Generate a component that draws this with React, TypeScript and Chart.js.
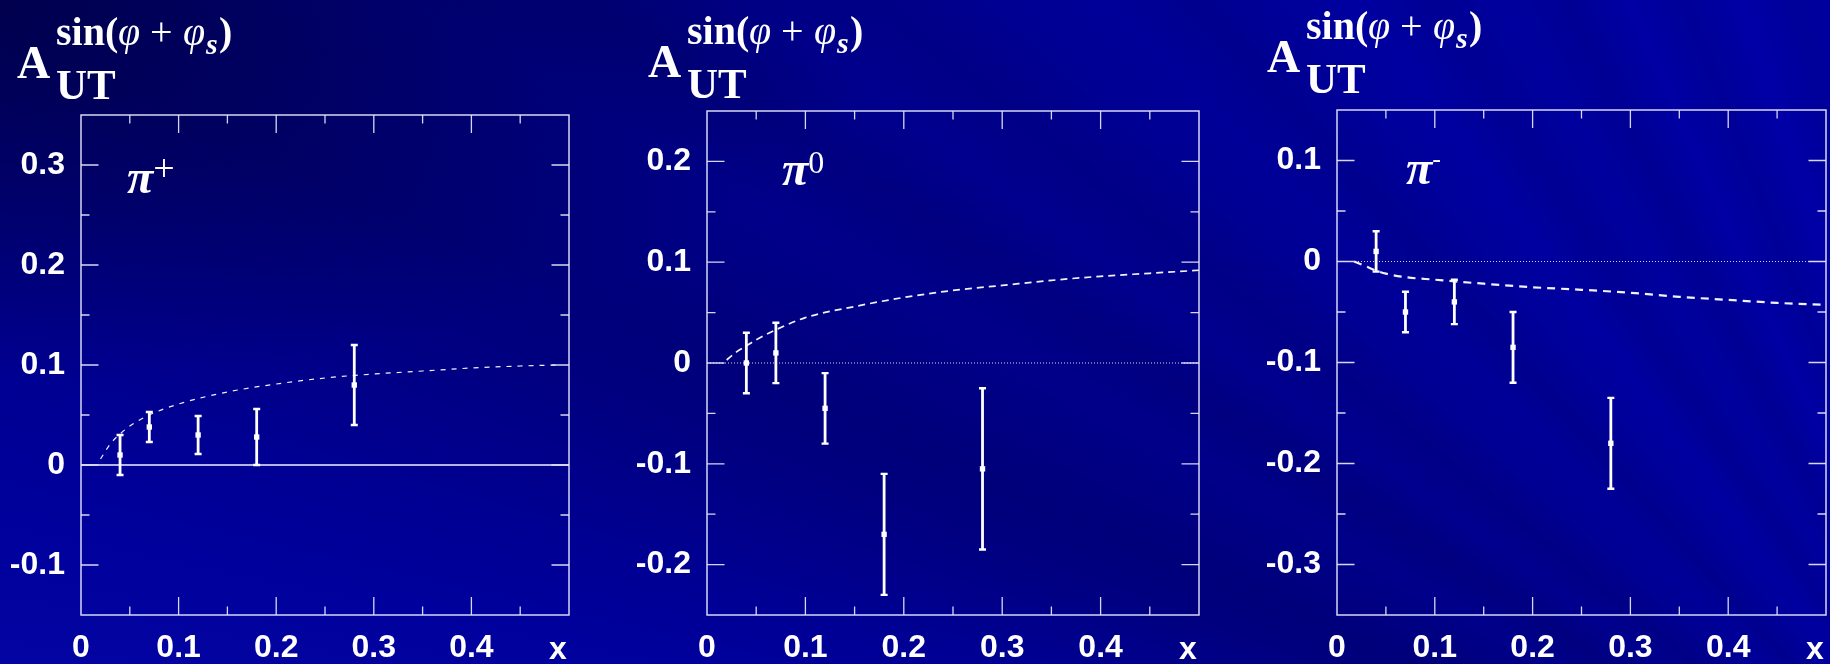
import React, { useEffect, useRef } from 'react';
import { Chart, registerables } from 'chart.js';

Chart.register(...registerables);

// ---------- data ----------
const X_MIN = 0;
const X_MAX = 0.5;
const X_TICK_VALUES = [0, 0.1, 0.2, 0.3, 0.4];
const X_TICK_LABELS = ['0', '0.1', '0.2', '0.3', '0.4'];
const X_AXIS_NAME = 'x';

const POINT_X = [0.04, 0.07, 0.12, 0.18, 0.28];

// pi+
const PIP_Y = [0.01, 0.038, 0.03, 0.028, 0.08];
const PIP_ERR = [0.02, 0.015, 0.019, 0.028, 0.04];
const PIP_CURVE_X = [0.02, 0.03, 0.04, 0.05, 0.07, 0.1, 0.15, 0.2, 0.25, 0.3, 0.35, 0.4, 0.45, 0.49];
const PIP_CURVE_Y = [0.006, 0.021, 0.031, 0.039, 0.05, 0.061, 0.073, 0.081, 0.087, 0.091, 0.094, 0.097, 0.099, 0.1];
const PIP_Y_TICKS = [-0.1, 0, 0.1, 0.2, 0.3];
const PIP_Y_LABELS = ['-0.1', '0', '0.1', '0.2', '0.3'];
const PIP_Y_MIN = -0.15;
const PIP_Y_MAX = 0.35;

// pi0
const PI0_Y = [0.0, 0.01, -0.045, -0.17, -0.105];
const PI0_ERR = [0.03, 0.03, 0.035, 0.06, 0.08];
const PI0_CURVE_X = [0.02, 0.03, 0.04, 0.05, 0.07, 0.1, 0.15, 0.2, 0.25, 0.3, 0.35, 0.4, 0.45, 0.5];
const PI0_CURVE_Y = [0.003, 0.011, 0.017, 0.023, 0.033, 0.045, 0.056, 0.065, 0.072, 0.077, 0.082, 0.086, 0.089, 0.092];
const PI0_Y_TICKS = [-0.2, -0.1, 0, 0.1, 0.2];
const PI0_Y_LABELS = ['-0.2', '-0.1', '0', '0.1', '0.2'];
const PI0_Y_MIN = -0.25;
const PI0_Y_MAX = 0.25;

// pi-
const PIM_Y = [0.01, -0.05, -0.04, -0.085, -0.18];
const PIM_ERR = [0.02, 0.02, 0.022, 0.035, 0.045];
const PIM_CURVE_X = [0.0175, 0.03, 0.04, 0.05, 0.07, 0.1, 0.15, 0.2, 0.25, 0.3, 0.35, 0.4, 0.45, 0.5];
const PIM_CURVE_Y = [0, -0.005, -0.009, -0.012, -0.0155, -0.018, -0.022, -0.0255, -0.028, -0.031, -0.035, -0.038, -0.041, -0.043];
const PIM_Y_TICKS = [-0.3, -0.2, -0.1, 0, 0.1];
const PIM_Y_LABELS = ['-0.3', '-0.2', '-0.1', '0', '0.1'];
const PIM_Y_MIN = -0.35;
const PIM_Y_MAX = 0.15;

const PARTICLE_SUPS = ['+', '0', '-'];

// ---------- layout ----------
type PanelCfg = {
  canvasLeft: number;
  canvasWidth: number;
  boxLeft: number;
  boxRight: number;
  boxTop: number;
  ys: number[];
  errs: number[];
  curveX: number[];
  curveY: number[];
  yTicks: number[];
  yLabels: string[];
  yMin: number;
  yMax: number;
  zeroSolid: boolean;
  curveWidth: number;
  curveDash: number[];
  titleX: number;
  titleBase: number;
  piX: number;
  piBase: number;
  supText: string;
  supSize: number;
  supRise: number;
};

const PANELS: PanelCfg[] = [
  {
    canvasLeft: 0, canvasWidth: 600, boxLeft: 81, boxRight: 569, boxTop: 115,
    ys: PIP_Y, errs: PIP_ERR, curveX: PIP_CURVE_X, curveY: PIP_CURVE_Y,
    yTicks: PIP_Y_TICKS, yLabels: PIP_Y_LABELS, yMin: PIP_Y_MIN, yMax: PIP_Y_MAX,
    zeroSolid: true, curveWidth: 1.2, curveDash: [5, 6],
    titleX: 17, titleBase: 78, piX: 127, piBase: 193, supText: PARTICLE_SUPS[0], supSize: 38, supRise: 12,
  },
  {
    canvasLeft: 620, canvasWidth: 610, boxLeft: 707, boxRight: 1199, boxTop: 111,
    ys: PI0_Y, errs: PI0_ERR, curveX: PI0_CURVE_X, curveY: PI0_CURVE_Y,
    yTicks: PI0_Y_TICKS, yLabels: PI0_Y_LABELS, yMin: PI0_Y_MIN, yMax: PI0_Y_MAX,
    zeroSolid: false, curveWidth: 1.7, curveDash: [7, 5],
    titleX: 648, titleBase: 77, piX: 782, piBase: 185, supText: PARTICLE_SUPS[1], supSize: 32, supRise: 12,
  },
  {
    canvasLeft: 1250, canvasWidth: 580, boxLeft: 1337, boxRight: 1828, boxTop: 110,
    ys: PIM_Y, errs: PIM_ERR, curveX: PIM_CURVE_X, curveY: PIM_CURVE_Y,
    yTicks: PIM_Y_TICKS, yLabels: PIM_Y_LABELS, yMin: PIM_Y_MIN, yMax: PIM_Y_MAX,
    zeroSolid: false, curveWidth: 2.2, curveDash: [8, 6],
    titleX: 1267, titleBase: 72, piX: 1406, piBase: 184, supText: PARTICLE_SUPS[2], supSize: 26, supRise: 17,
  },
];

const CANVAS_H = 664;
const Y_AXIS_W = 80;
const X_AXIS_H = 49;
const FRAME_COLOR = 'rgba(225,225,250,0.95)';
const SERIF = '"Liberation Serif", "Times New Roman", serif';
const SANS = '"Liberation Sans", Arial, sans-serif';
const TICK_SIZE = 32;

function Panel({ cfg }: { cfg: PanelCfg }) {
  const ref = useRef<HTMLCanvasElement | null>(null);

  useEffect(() => {
    const canvas = ref.current;
    if (!canvas) return;
    const cl = cfg.canvasLeft;

    const decor = {
      id: 'decor',
      beforeDatasetsDraw(chart: any) {
        const ctx = chart.ctx as CanvasRenderingContext2D;
        const { left, right } = chart.chartArea;
        const ys = chart.scales.y;
        const y0 = ys.getPixelForValue(0);
        ctx.save();
        ctx.strokeStyle = cfg.zeroSolid ? 'rgba(240,240,255,1)' : 'rgba(230,230,255,0.9)';
        ctx.lineWidth = cfg.zeroSolid ? 1.5 : 1;
        ctx.setLineDash(cfg.zeroSolid ? [] : [1, 2]);
        ctx.beginPath();
        ctx.moveTo(left, y0);
        ctx.lineTo(right, y0);
        ctx.stroke();
        ctx.restore();
      },
      afterDatasetsDraw(chart: any) {
        const ctx = chart.ctx as CanvasRenderingContext2D;
        const { left, right, top, bottom } = chart.chartArea;
        const xs = chart.scales.x;
        const ys = chart.scales.y;
        ctx.save();
        // error bars
        ctx.strokeStyle = '#ffffff';
        for (let i = 0; i < POINT_X.length; i++) {
          const px = xs.getPixelForValue(POINT_X[i]);
          const pt = ys.getPixelForValue(cfg.ys[i] + cfg.errs[i]);
          const pb = ys.getPixelForValue(cfg.ys[i] - cfg.errs[i]);
          ctx.lineWidth = 2.8;
          ctx.beginPath();
          ctx.moveTo(px, pt);
          ctx.lineTo(px, pb);
          ctx.stroke();
          ctx.lineWidth = 2.4;
          ctx.beginPath();
          ctx.moveTo(px - 3.5, pt);
          ctx.lineTo(px + 3.5, pt);
          ctx.moveTo(px - 3.5, pb);
          ctx.lineTo(px + 3.5, pb);
          ctx.stroke();
        }
        // frame
        ctx.strokeStyle = FRAME_COLOR;
        ctx.lineWidth = 1.5;
        ctx.strokeRect(left, top, right - left, bottom - top);
        // x ticks
        ctx.lineWidth = 1.3;
        ctx.beginPath();
        for (let k = 1; k < 10; k++) {
          const v = X_MIN + k * 0.05;
          const px = xs.getPixelForValue(v);
          const len = k % 2 === 0 ? 18 : 8.5;
          ctx.moveTo(px, bottom);
          ctx.lineTo(px, bottom - len);
          ctx.moveTo(px, top);
          ctx.lineTo(px, top + len);
        }
        // y ticks
        const kMin = Math.ceil(cfg.yMin / 0.05 - 1e-6);
        const kMax = Math.floor(cfg.yMax / 0.05 + 1e-6);
        for (let k = kMin; k <= kMax; k++) {
          const v = k * 0.05;
          if (Math.abs(v - cfg.yMin) < 1e-6 || Math.abs(v - cfg.yMax) < 1e-6) continue;
          const py = ys.getPixelForValue(v);
          const len = Math.abs(k) % 2 === 0 ? 17.5 : 8.5;
          ctx.moveTo(left, py);
          ctx.lineTo(left + len, py);
          ctx.moveTo(right, py);
          ctx.lineTo(right - len, py);
        }
        ctx.stroke();

        // x axis name
        ctx.fillStyle = '#ffffff';
        ctx.font = `bold ${TICK_SIZE}px ${SANS}`;
        ctx.textAlign = 'center';
        ctx.textBaseline = 'alphabetic';
        ctx.fillText(X_AXIS_NAME, xs.getPixelForValue(X_MAX) - 11, 659);

        // title A^{sin(phi+phi_S)}_{UT}
        ctx.textAlign = 'left';
        const tx = cfg.titleX - cl;
        const tb = cfg.titleBase;
        ctx.font = `bold 46px ${SERIF}`;
        ctx.fillText('A', tx, tb);
        const sb = tb - 33;
        ctx.font = `bold 40px ${SERIF}`;
        ctx.fillText('sin(', tx + 39, sb);
        ctx.font = `italic 40px ${SERIF}`;
        ctx.fillText('\u03C6', tx + 101, sb);
        ctx.font = `40px ${SERIF}`;
        ctx.fillText('+', tx + 133, sb);
        ctx.font = `italic 40px ${SERIF}`;
        ctx.fillText('\u03C6', tx + 166, sb);
        ctx.font = `bold italic 30px ${SERIF}`;
        ctx.fillText('s', tx + 189, sb + 9);
        ctx.font = `bold 40px ${SERIF}`;
        ctx.fillText(')', tx + 202, sb);
        ctx.font = `bold 43px ${SERIF}`;
        ctx.fillText('UT', tx + 39, tb + 21);

        // particle label
        const px0 = cfg.piX - cl;
        ctx.font = `bold italic 48px ${SERIF}`;
        ctx.fillText('\u03C0', px0, cfg.piBase);
        const w = ctx.measureText('\u03C0').width;
        ctx.font = `${cfg.supSize}px ${SERIF}`;
        ctx.fillText(cfg.supText, px0 + w, cfg.piBase - cfg.supRise);
        ctx.restore();
      },
    };

    const chart = new Chart(canvas, {
      type: 'line',
      data: {
        datasets: [
          {
            label: 'curve',
            data: cfg.curveX.map((x, i) => ({ x, y: cfg.curveY[i] })),
            borderColor: 'rgba(255,255,255,0.95)',
            borderWidth: cfg.curveWidth,
            borderDash: cfg.curveDash,
            pointRadius: 0,
            fill: false,
            cubicInterpolationMode: 'monotone',
          },
          {
            label: 'points',
            data: POINT_X.map((x, i) => ({ x, y: cfg.ys[i] })),
            showLine: false,
            pointStyle: 'rect',
            pointRadius: 3.8,
            backgroundColor: '#ffffff',
            borderWidth: 0,
          },
        ],
      },
      options: {
        responsive: false,
        maintainAspectRatio: false,
        animation: false,
        events: [],
        layout: {
          padding: {
            left: cfg.boxLeft - cl - Y_AXIS_W,
            right: cl + cfg.canvasWidth - cfg.boxRight,
            top: cfg.boxTop,
            bottom: 0,
          },
        },
        plugins: { legend: { display: false }, tooltip: { enabled: false }, title: { display: false } },
        scales: {
          x: {
            type: 'linear',
            min: X_MIN,
            max: X_MAX,
            grid: { display: false, drawTicks: false },
            border: { display: false },
            afterBuildTicks: (s: any) => {
              s.ticks = X_TICK_VALUES.map((v) => ({ value: v }));
            },
            afterFit: (s: any) => {
              s.height = X_AXIS_H;
            },
            ticks: {
              color: '#ffffff',
              font: { family: SANS, weight: 'bold', size: TICK_SIZE },
              padding: 14,
              maxRotation: 0,
              autoSkip: false,
              callback: (_v: any, i: number) => X_TICK_LABELS[i],
            },
          },
          y: {
            type: 'linear',
            min: cfg.yMin,
            max: cfg.yMax,
            grid: { display: false, drawTicks: false },
            border: { display: false },
            afterBuildTicks: (s: any) => {
              s.ticks = cfg.yTicks.map((v) => ({ value: v }));
            },
            afterFit: (s: any) => {
              s.width = Y_AXIS_W;
            },
            ticks: {
              color: '#ffffff',
              font: { family: SANS, weight: 'bold', size: TICK_SIZE },
              padding: 16,
              autoSkip: false,
              callback: (_v: any, i: number) => cfg.yLabels[i],
            },
          },
        },
      } as any,
      plugins: [decor],
    });
    return () => chart.destroy();
  }, [cfg]);

  return (
    <canvas
      ref={ref}
      width={cfg.canvasWidth}
      height={CANVAS_H}
      style={{
        position: 'absolute',
        left: cfg.canvasLeft,
        top: 0,
        width: cfg.canvasWidth,
        height: CANVAS_H,
      }}
    />
  );
}

const BG = [
  'radial-gradient(ellipse 900px 380px at 0px 0px, rgba(0,0,40,0.55), rgba(0,0,40,0) 100%),',
  'conic-gradient(from 0deg at 2050px 950px,',
  '#0a0aaa 270deg, #0404a2 278deg, #00009c 282deg, #000094 285deg, #00008a 288deg,',
  '#000080 291deg, #00007a 294deg, #000082 297deg, #00008a 300deg, #000080 303deg,',
  '#00008e 306deg, #000086 309deg, #000092 312deg, #000098 315deg, #00008e 318deg,',
  '#00009a 321deg, #0000a0 324deg, #000094 327deg, #00009e 330deg, #000094 333deg,',
  '#0000a4 336deg, #000098 339deg, #0000a6 342deg, #00009a 345deg, #0000a6 350deg)',
].join(' ');

export default function App() {
  return (
    <div
      style={{
        position: 'absolute',
        left: 0,
        top: 0,
        width: 1830,
        height: 664,
        overflow: 'hidden',
        background: BG,
      }}
    >
      {PANELS.map((p, i) => (
        <Panel key={i} cfg={p} />
      ))}
    </div>
  );
}
